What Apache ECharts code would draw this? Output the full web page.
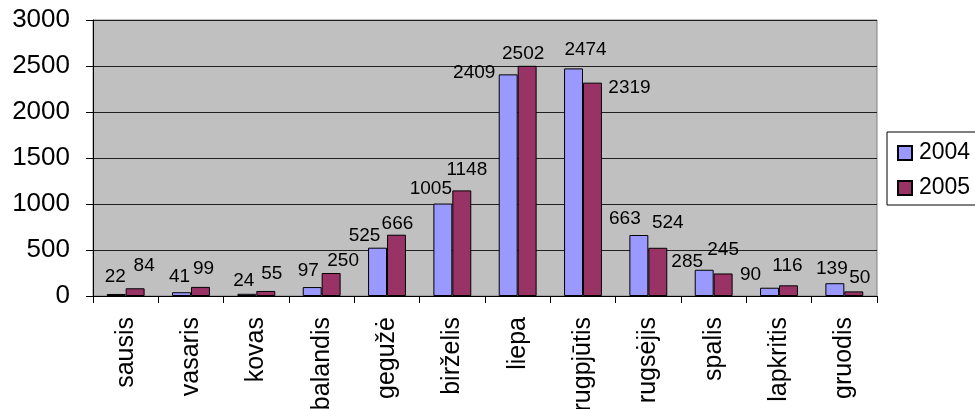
<!DOCTYPE html>
<html>
<head>
<meta charset="utf-8">
<script src="https://cdn.jsdelivr.net/npm/echarts@6/dist/echarts.min.js"></script>
<style>
  html, body { margin: 0; padding: 0; background: #fff; }
  #chart { width: 975px; height: 409px; }
</style>
</head>
<body>
<div id="chart"></div>
<script>
// menesiai
var months = ["sausis", "vasaris", "kovas", "balandis", "gegužė", "birželis",
  "liepa", "rugpjūtis", "rugsėjis", "spalis", "lapkritis", "gruodis"];
var seriesNames = ["2004", "2005"];
var values2004 = [22, 41, 24, 97, 525, 1005, 2409, 2474, 663, 285, 90, 139];
var values2005 = [84, 99, 55, 250, 666, 1148, 2502, 2319, 524, 245, 116, 50];
var yTicks = [0, 500, 1000, 1500, 2000, 2500, 3000];

var chart = echarts.init(document.getElementById("chart"));
var colors = ["#9999FF", "#993366"];
var font = "Liberation Sans, Arial, sans-serif";

// etikeciu poslinkiai (px), kaip Excel isdeste: [dx, tarpas virs stulpelio]
var labelDx = [
  [-1, -2, -3, -4, -13, -12, -34, 12, -14, -17, -19, -3],
  [9, 3, 6, 12, 1, 5, -4, 37, 10, 0, -1, 6]
];
var labelGap = [
  [11, 9, 7, 10, 5, 8, -5, 12, 10, 2, 6, 8],
  [16, 12, 11, 6, 4, 14, 6, -12, 19, 17, 13, 7]
];

var series = [values2004, values2005].map(function (v, i) {
  var data = v.map(function (val, j) {
    return {
      value: val,
      label: { offset: [labelDx[i][j], -(labelGap[i][j] - 3)] }
    };
  });
  return {
    name: seriesNames[i],
    type: "bar",
    data: data,
    barGap: "0%",
    barCategoryGap: "42%",
    itemStyle: { color: colors[i], borderColor: "#000", borderWidth: 1 },
    label: {
      show: true,
      position: "top",
      distance: 0,
      color: "#000",
      fontFamily: font,
      fontSize: 19
    }
  };
});

var option = {
  animation: false,
  backgroundColor: "#fff",
  grid: { left: 93, right: 98, top: 20, bottom: 113, outerBoundsMode: "none", containLabel: false,
    show: true, backgroundColor: "#C0C0C0", borderColor: "#808080", borderWidth: 1 },
  legend: {
    orient: "vertical",
    left: 887,
    top: 132,
    padding: [9, 30, 5, 10],
    itemGap: 11,
    borderColor: "#000",
    borderWidth: 1,
    borderRadius: 0,
    icon: "rect",
    itemWidth: 14,
    itemHeight: 14,
    textStyle: { fontFamily: font, fontSize: 23, lineHeight: 24, color: "#000", padding: [0, 0, 0, 2] },
    data: seriesNames
  },
  xAxis: {
    type: "category",
    data: months,
    axisLine: { lineStyle: { color: "#000", width: 1 } },
    axisTick: { show: true, length: 7, lineStyle: { color: "#000" } },
    axisLabel: { rotate: 90, interval: 0, margin: 21, color: "#000", fontFamily: font, fontSize: 25 }
  },
  yAxis: {
    type: "value",
    min: yTicks[0],
    max: yTicks[yTicks.length - 1],
    interval: 500,
    axisLine: { show: true, lineStyle: { color: "#000" } },
    axisTick: { show: true, length: 7, lineStyle: { color: "#000" } },
    splitLine: { show: true, lineStyle: { color: "#202020", width: 1 } },
    axisLabel: { color: "#000", fontFamily: font, fontSize: 26, margin: 23,
      formatter: function (v) { return String(v); } }
  },
  series: series
};
chart.setOption(option);
</script>
</body>
</html>
